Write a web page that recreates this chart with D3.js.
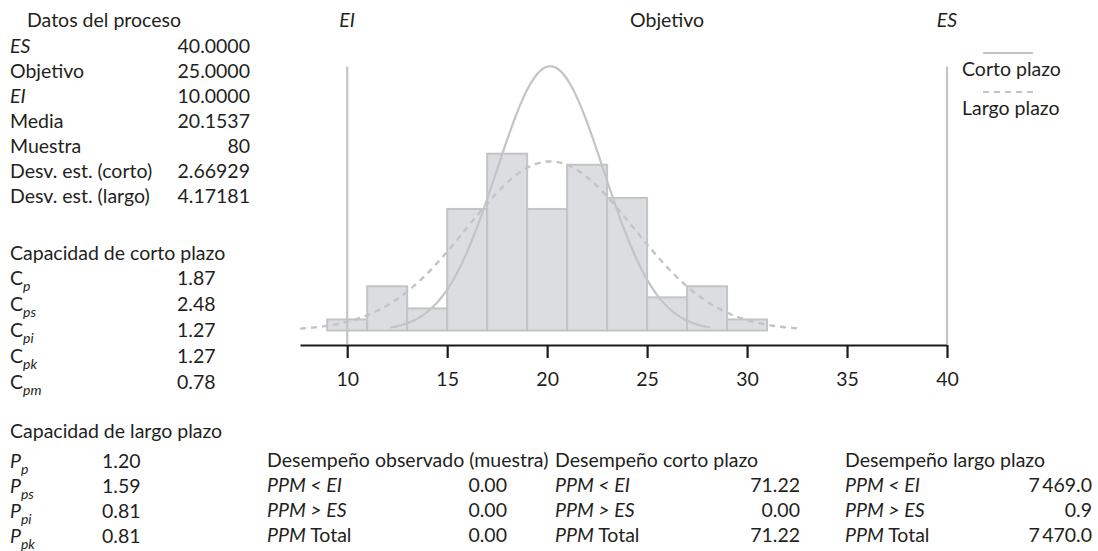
<!DOCTYPE html>
<html>
<head>
<meta charset="utf-8">
<script src="https://cdn.jsdelivr.net/npm/d3@7"></script>
<style>
  html, body { margin: 0; padding: 0; background: #fff; }
  svg { display: block; }
  text { font-family: Lato, "Open Sans", sans-serif; fill: #231f20; }
</style>
</head>
<body>
<svg id="chart" width="1098" height="551"></svg>
<script>
// ---------------- data ----------------
const binEdges = [9, 11, 13, 15, 17, 19, 21, 23, 25, 27, 29, 31];
const binCounts = [1, 4, 2, 11, 16, 11, 15, 12, 3, 4, 1];
const xTicks = [10, 15, 20, 25, 30, 35, 40];

const LSL = 10, USL = 40, target = 25;
const mean = 20.1537, sampleN = 80;
const sdShort = 2.66929, sdLong = 4.17181;

const processLabels = ["ES", "Objetivo", "EI", "Media", "Muestra", "Desv. est. (corto)", "Desv. est. (largo)"];
const processItalic = [true, false, true, false, false, false, false];
const processValues = ["40.0000", "25.0000", "10.0000", "20.1537", "80", "2.66929", "4.17181"];

const shortSubs = ["p", "ps", "pi", "pk", "pm"];
const shortValues = ["1.87", "2.48", "1.27", "1.27", "0.78"];
const longSubs = ["p", "ps", "pi", "pk"];
const longValues = ["1.20", "1.59", "0.81", "0.81"];

const ppmLabels = [["PPM < EI", ""], ["PPM > ES", ""], ["PPM", " Total"]];
const observedValues = ["0.00", "0.00", "0.00"];
const shortPerfValues = ["71.22", "0.00", "71.22"];
const longPerfValues = ["7\u2009469.0", "0.9", "7\u2009470.0"];

const legendLabels = ["Corto plazo", "Largo plazo"];

// ---------------- setup ----------------
const svg = d3.select("#chart");
const FS = 19.5;
const textColor = "#231f20";
const grey = "#c3c4c6";

const xMin = mean - 3 * sdLong;
const x = d3.scaleLinear().domain([xMin, USL]).range([300, 947]);
const y = d3.scaleLinear().domain([0, 25]).range([330.5, 330.5 - 25 * 11.05]);

// bars
const bins = binCounts.map((c, i) => ({ x0: binEdges[i], x1: binEdges[i + 1], c }));
svg.append("g").selectAll("rect").data(bins).join("rect")
  .attr("x", d => x(d.x0))
  .attr("y", d => y(d.c))
  .attr("width", d => x(d.x1) - x(d.x0))
  .attr("height", d => y(0) - y(d.c))
  .attr("fill", "#dcdde0")
  .attr("stroke", grey)
  .attr("stroke-width", 2);

// spec limit lines
[LSL, USL].forEach(v => {
  svg.append("line")
    .attr("x1", x(v)).attr("x2", x(v))
    .attr("y1", 66.5).attr("y2", 344)
    .attr("stroke", grey).attr("stroke-width", 2.2);
});

// normal curves
const binW = binEdges[1] - binEdges[0];
function curvePts(sd) {
  const pts = [];
  const a = mean - 3 * sd, b = mean + 3 * sd;
  for (let i = 0; i <= 200; i++) {
    const v = a + (b - a) * i / 200;
    const pdf = Math.exp(-0.5 * ((v - mean) / sd) ** 2) / (sd * Math.sqrt(2 * Math.PI));
    pts.push([v, pdf * sampleN * binW]);
  }
  return pts;
}
const line = d3.line().x(d => x(d[0])).y(d => y(d[1])).curve(d3.curveBasis);
svg.append("path").attr("d", line(curvePts(sdLong)))
  .attr("fill", "none").attr("stroke", grey).attr("stroke-width", 2.4)
  .attr("stroke-dasharray", "6,5");
svg.append("path").attr("d", line(curvePts(sdShort)))
  .attr("fill", "none").attr("stroke", grey).attr("stroke-width", 2.2);

// axis
const axis = d3.axisBottom(x).tickValues(xTicks).tickSize(13).tickSizeOuter(0).tickPadding(14);
const gAxis = svg.append("g").attr("transform", "translate(0,345)").call(axis);
gAxis.select(".domain").attr("stroke", "#1a1a1a").attr("stroke-width", 2.2);
gAxis.selectAll(".tick line").attr("stroke", "#1a1a1a").attr("stroke-width", 2.2);
gAxis.selectAll(".tick text").attr("font-size", FS).attr("font-family", "Lato, sans-serif").attr("fill", textColor);

// top labels
svg.append("text").attr("x", x(LSL)).attr("y", 27).attr("text-anchor", "middle")
  .attr("font-size", FS).attr("font-style", "italic").text("EI");
svg.append("text").attr("x", x(target) + 20).attr("y", 27).attr("text-anchor", "middle")
  .attr("font-size", FS).text("Objetivo");
svg.append("text").attr("x", x(USL)).attr("y", 27).attr("text-anchor", "middle")
  .attr("font-size", FS).attr("font-style", "italic").text("ES");

// legend
const legY = [53, 92];
legendLabels.forEach((lab, i) => {
  svg.append("line").attr("x1", 983).attr("x2", 1033).attr("y1", legY[i]).attr("y2", legY[i])
    .attr("stroke", grey).attr("stroke-width", 2.2)
    .attr("stroke-dasharray", i === 1 ? "6,5" : null);
  svg.append("text").attr("x", 962).attr("y", legY[i] + 23).attr("font-size", FS).text(lab);
});

// process data block
svg.append("text").attr("x", 27).attr("y", 27).attr("font-size", FS).text("Datos del proceso");
processLabels.forEach((lab, i) => {
  const yy = 53 + i * 25;
  svg.append("text").attr("x", 10).attr("y", yy).attr("font-size", FS)
    .attr("font-style", processItalic[i] ? "italic" : null).text(lab);
  svg.append("text").attr("x", 250).attr("y", yy).attr("font-size", FS)
    .attr("text-anchor", "end").text(processValues[i]);
});

// capability blocks
function capBlock(title, titleY, letter, subs, vals, valX, rowStart, step) {
  svg.append("text").attr("x", 10).attr("y", titleY).attr("font-size", FS).text(title);
  subs.forEach((s, i) => {
    const yy = rowStart + i * step;
    const t = svg.append("text").attr("x", 10).attr("y", yy).attr("font-size", FS);
    t.append("tspan").attr("font-style", letter === "P" ? "italic" : null).text(letter);
    t.append("tspan").attr("font-style", "italic").attr("font-size", 14).attr("dy", 6).text(s);
    svg.append("text").attr("x", valX).attr("y", yy).attr("font-size", FS).text(vals[i]);
  });
}
capBlock("Capacidad de corto plazo", 260, "C", shortSubs, shortValues, 177, 285, 26);
capBlock("Capacidad de largo plazo", 438, "P", longSubs, longValues, 102, 468, 25);

// performance tables
function perfTable(title, tx, valRight, vals) {
  svg.append("text").attr("x", tx).attr("y", 467).attr("font-size", FS).text(title);
  ppmLabels.forEach((lab, i) => {
    const yy = 492 + i * 25;
    const t = svg.append("text").attr("x", tx).attr("y", yy).attr("font-size", FS);
    t.append("tspan").attr("font-style", "italic").text(lab[0]);
    if (lab[1]) t.append("tspan").text(lab[1]);
    svg.append("text").attr("x", valRight).attr("y", yy).attr("font-size", FS)
      .attr("text-anchor", "end").text(vals[i]);
  });
}
perfTable("Desempeño observado (muestra)", 267, 507, observedValues);
perfTable("Desempeño corto plazo", 555, 800, shortPerfValues);
perfTable("Desempeño largo plazo", 845, 1092, longPerfValues);
</script>
</body>
</html>
